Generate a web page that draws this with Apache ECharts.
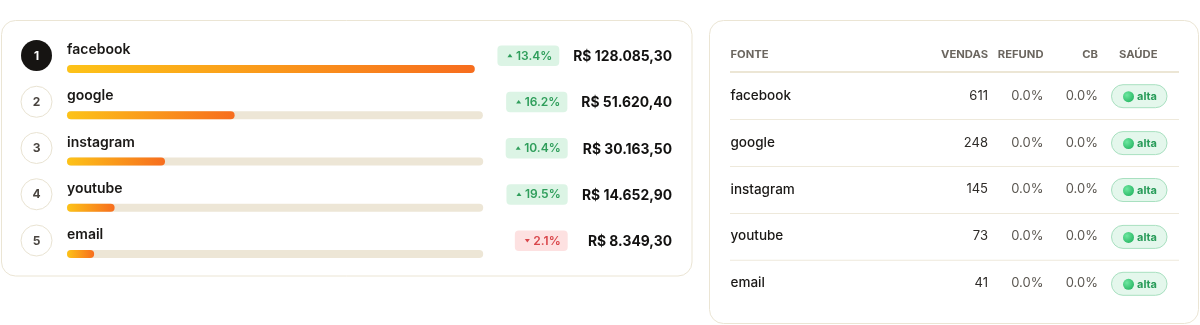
<!DOCTYPE html>
<html><head><meta charset="utf-8">
<script src="https://cdn.jsdelivr.net/npm/echarts@6/dist/echarts.min.js"></script>
<style>html,body{margin:0;padding:0;background:#fff}#c{width:1200px;height:325px}</style>
</head><body><div id="c"></div>
<script>
// ---- data ----
const sources = ['facebook', 'google', 'instagram', 'youtube', 'email'];
const revenue = [128085.30, 51620.40, 30163.50, 14652.90, 8349.30];
const change = [13.4, 16.2, 10.4, 19.5, -2.1];
const sales = [611, 248, 145, 73, 41];
const refundPct = [0.0, 0.0, 0.0, 0.0, 0.0];
const cbPct = [0.0, 0.0, 0.0, 0.0, 0.0];
const health = ['alta', 'alta', 'alta', 'alta', 'alta'];
const tableHeaders = ['FONTE', 'VENDAS', 'REFUND', 'CB', 'SAÚDE'];

// ---- helpers ----
const FONT = 'Inter, "Noto Sans", sans-serif';
const cv = document.createElement('canvas').getContext('2d');
function tw(t, f) { cv.font = f; return cv.measureText(t).width; }
function brl(v) {
  const parts = v.toFixed(2).split('.');
  const int = parts[0].replace(/\B(?=(\d{3})+(?!\d))/g, '.');
  return 'R$ ' + int + ',' + parts[1];
}
const maxRev = Math.max.apply(null, revenue);

const chart = echarts.init(document.getElementById('c'), null, {renderer: 'canvas'});
const graphic = [];
const grids = [], xAxes = [], yAxes = [], series = [];

// cards
graphic.push({type: 'rect', shape: {x: 1.5, y: 20.5, width: 690.5, height: 255.5, r: 14},
  style: {fill: '#fff', stroke: '#ebe5d4', lineWidth: 1}, z: 0});
graphic.push({type: 'rect', shape: {x: 709.5, y: 20.5, width: 489, height: 303, r: 14},
  style: {fill: '#fff', stroke: '#ebe5d4', lineWidth: 1}, z: 0});

// ---- left ranking ----
const rowStep = 46.25, bar0 = 69;
const valFont = '700 15px ' + FONT;
const valScale = 0.925;
const pctFont = '600 12px ' + FONT;
sources.forEach(function (name, i) {
  const barY = bar0 + i * rowStep;
  const topY = barY - 13.5;
  // rank circle
  graphic.push({type: 'circle', shape: {cx: 36.5, cy: topY, r: 15.5},
    style: i === 0 ? {fill: '#161412'} : {fill: '#fff', stroke: '#e9e3d2', lineWidth: 1}, z: 2});
  graphic.push({type: 'text', style: {text: String(i + 1), x: 36.5, y: topY + 0.5, textAlign: 'center', textVerticalAlign: 'middle',
    font: '700 12px ' + FONT, fill: i === 0 ? '#fff' : '#4a4540'}, z: 3});
  // name
  graphic.push({type: 'text', style: {text: name, x: 67, y: barY - 19, textAlign: 'left', textVerticalAlign: 'middle',
    font: '600 14px ' + FONT, fill: '#1a1816'}, z: 3});
  // value
  const vt = brl(revenue[i]);
  const vw = Math.max(90.3, tw(vt, valFont) * valScale);
  graphic.push({type: 'text', x: 672, y: topY + 1, scaleX: valScale,
    style: {text: vt, x: 0, y: 0, textAlign: 'right', textVerticalAlign: 'middle',
    font: valFont, fill: '#121110'}, z: 3});
  // badge
  const up = change[i] >= 0;
  const pt = Math.abs(change[i]).toFixed(1) + '%';
  const ptw = tw(pt, pctFont);
  const bw = 10 + 4 + 4.5 + ptw + 7;
  const bRight = 672 - vw - 14;
  const bLeft = bRight - bw;
  graphic.push({type: 'rect', shape: {x: bLeft, y: topY - 10, width: bw, height: 20.5, r: 4},
    style: {fill: up ? '#dcf4e5' : '#fde1e1'}, z: 2});
  const tx = bLeft + 10;
  graphic.push({type: 'polygon', shape: {points: up ? [[tx, topY + 1.8], [tx + 5, topY + 1.8], [tx + 2.5, topY - 1.7]]
      : [[tx, topY - 1.5], [tx + 5, topY - 1.5], [tx + 2.5, topY + 2]]},
    style: {fill: up ? '#2f9e5b' : '#d9464a'}, z: 3});
  graphic.push({type: 'text', style: {text: pt, x: tx + 8.5, y: topY + 0.5, textAlign: 'left', textVerticalAlign: 'middle',
    font: pctFont, fill: up ? '#2f9e5b' : '#d9464a'}, z: 3});
  // bar track area
  const colW = Math.max(62, bw);
  const trackRight = bRight - colW - 22.5;
  grids.push({left: 67, top: barY - 4, width: trackRight - 67, height: 8});
  xAxes.push({type: 'value', gridIndex: i, min: 0, max: maxRev, show: false});
  yAxes.push({type: 'category', gridIndex: i, data: [name], show: false});
  series.push({type: 'bar', xAxisIndex: i, yAxisIndex: i, data: [revenue[i]], barWidth: 8, silent: true,
    showBackground: true, backgroundStyle: {color: '#ede6d6', borderRadius: 4},
    itemStyle: {borderRadius: 4, color: new echarts.graphic.LinearGradient(0, 0, 1, 0,
      [{offset: 0, color: '#fdc318'}, {offset: 1, color: '#f76d1e'}])}});
});

// ---- right table ----
const hdFont = '700 10.5px ' + FONT;
const hdScale = 1.07;
const hdY = 55;
const colX = [730.5, 988, 1043.5, 1098, 1119];
const colAlign = ['left', 'right', 'right', 'right', 'left'];
tableHeaders.forEach(function (h, j) {
  graphic.push({type: 'text', x: colX[j], y: hdY, scaleX: hdScale,
    style: {text: h, x: 0, y: 0, textAlign: colAlign[j], textVerticalAlign: 'middle',
    font: hdFont, fill: '#6b665f'}, z: 3});
});
graphic.push({type: 'rect', shape: {x: 730, y: 71, width: 449, height: 2}, style: {fill: '#ece6d5'}, z: 2});
const tStep = 46.9, t0 = 95.7;
sources.forEach(function (name, i) {
  const y = t0 + i * tStep;
  if (i > 0) graphic.push({type: 'rect', shape: {x: 730, y: y - 23.5, width: 449, height: 1}, style: {fill: '#eee9db'}, z: 2});
  graphic.push({type: 'text', style: {text: name, x: colX[0], y: y, textAlign: 'left', textVerticalAlign: 'middle',
    font: '500 13.5px ' + FONT, fill: '#1a1816'}, z: 3});
  graphic.push({type: 'text', style: {text: String(sales[i]), x: colX[1], y: y, textAlign: 'right', textVerticalAlign: 'middle',
    font: '400 13px ' + FONT, fill: '#2e2b28'}, z: 3});
  graphic.push({type: 'text', style: {text: refundPct[i].toFixed(1) + '%', x: colX[2], y: y, textAlign: 'right', textVerticalAlign: 'middle',
    font: '400 13px ' + FONT, fill: '#5a5650'}, z: 3});
  graphic.push({type: 'text', style: {text: cbPct[i].toFixed(1) + '%', x: colX[3], y: y, textAlign: 'right', textVerticalAlign: 'middle',
    font: '400 13px ' + FONT, fill: '#5a5650'}, z: 3});
  // health pill
  graphic.push({type: 'rect', shape: {x: 1111.5, y: y - 11, width: 55.5, height: 23, r: 11.5},
    style: {fill: '#e4f7ec', stroke: '#a8e0c0', lineWidth: 1}, z: 2});
  graphic.push({type: 'circle', shape: {cx: 1128.5, cy: y + 1, r: 5.5},
    style: {fill: new echarts.graphic.RadialGradient(0.35, 0.35, 0.8, [{offset: 0, color: '#6ee7a0'}, {offset: 1, color: '#22b35f'}])}, z: 3});
  graphic.push({type: 'text', style: {text: health[i], x: 1137, y: y + 1, textAlign: 'left', textVerticalAlign: 'middle',
    font: '700 11px ' + FONT, fill: '#2a9c5a'}, z: 3});
});

chart.setOption({
  animation: false,
  backgroundColor: '#fff',
  grid: grids, xAxis: xAxes, yAxis: yAxes, series: series,
  graphic: {elements: graphic}
});
</script></body></html>
